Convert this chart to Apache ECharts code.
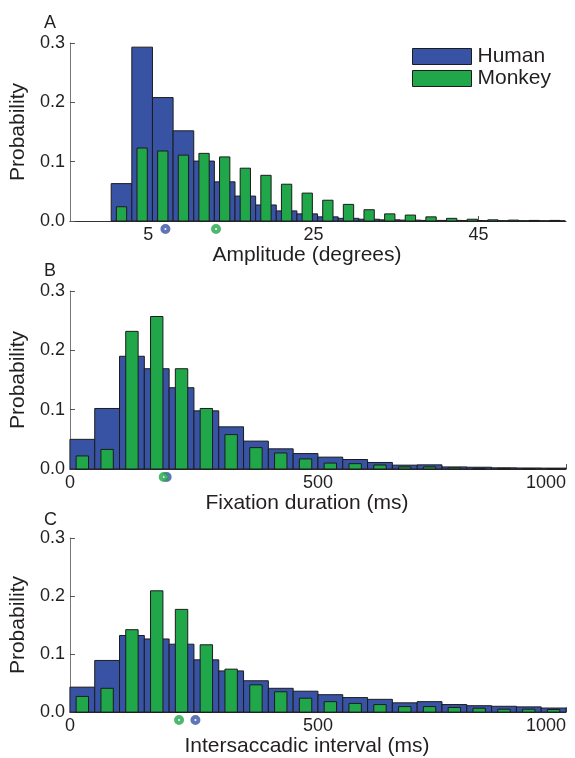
<!DOCTYPE html>
<html>
<head>
<meta charset="utf-8">
<script src="https://cdn.jsdelivr.net/npm/echarts@6/dist/echarts.min.js"></script>
<style>html,body{margin:0;padding:0;background:#fff;}#chart{width:575px;height:758px;}</style>
</head>
<body>
<div id="chart"></div>
<script>
// ---- data ----
const ampBins = [1.75, 4.25, 6.75, 9.25, 11.75, 14.25, 16.75, 19.25, 21.75, 24.25, 26.75, 29.25, 31.75, 34.25, 36.75, 39.25, 41.75, 44.25, 46.75, 49.25, 51.75, 54.25];
const ampHuman = [0.063, 0.293, 0.208, 0.152, 0.101, 0.066, 0.042, 0.027, 0.017, 0.012, 0.007, 0.0045, 0.003, 0.002, 0.0015, 0.001, 0.001, 0.0008, 0.0006, 0.0005, 0.0004, 0.0003];
const ampMonkey = [0.024, 0.123, 0.118, 0.111, 0.114, 0.108, 0.089, 0.077, 0.062, 0.047, 0.035, 0.028, 0.019, 0.012, 0.010, 0.007, 0.0045, 0.003, 0.002, 0.0015, 0.001, 0.001];
const msBins = [25, 75, 125, 175, 225, 275, 325, 375, 425, 475, 525, 575, 625, 675, 725, 775, 825, 875, 925, 975];
const fixHuman = [0.050, 0.102, 0.190, 0.169, 0.137, 0.098, 0.071, 0.047, 0.034, 0.026, 0.020, 0.016, 0.011, 0.0065, 0.007, 0.0035, 0.003, 0.002, 0.0017, 0.0015];
const fixMonkey = [0.022, 0.033, 0.232, 0.257, 0.169, 0.102, 0.058, 0.036, 0.027, 0.017, 0.010, 0.009, 0.0067, 0.0035, 0.0035, 0.002, 0.001, 0.001, 0.0007, 0.0005];
const isiHuman = [0.043, 0.089, 0.132, 0.126, 0.117, 0.090, 0.071, 0.054, 0.041, 0.036, 0.030, 0.025, 0.022, 0.016, 0.018, 0.013, 0.011, 0.010, 0.009, 0.007];
const isiMonkey = [0.027, 0.041, 0.142, 0.209, 0.177, 0.116, 0.074, 0.047, 0.035, 0.024, 0.018, 0.015, 0.013, 0.0095, 0.0095, 0.008, 0.0067, 0.005, 0.005, 0.0045];
const meanHuman = [7.07, 195, 253];
const meanMonkey = [13.2, 189, 220];
const ampTicks = [5, 25, 45];
const msTicks = [0, 500, 1000];
const panelLetters = ['A', 'B', 'C'];
const xTitles = ['Amplitude (degrees)', 'Fixation duration (ms)', 'Intersaccadic interval (ms)'];

// ---- styling ----
const BLUE = '#3853a4', GREEN = '#1fa74a', EDGE = '#1c1c1c', TXT = '#231f20';
const FONT = '"Liberation Sans", Arial, Helvetica, sans-serif';
const grids = [
  {left: 67, top: 43, width: 499, height: 178},
  {left: 67, top: 291, width: 499, height: 178},
  {left: 67, top: 538, width: 499, height: 178}
];

function barRender(binWidth, frac) {
  return function (params, api) {
    const c = api.value(0), v = api.value(1);
    const w = binWidth * frac;
    const p0 = api.coord([c - w / 2, v]);
    const p1 = api.coord([c + w / 2, 0]);
    return {
      type: 'rect',
      shape: {x: p0[0], y: p0[1], width: p1[0] - p0[0], height: p1[1] - p0[1]},
      style: {fill: api.visual('color'), stroke: EDGE, lineWidth: 1}
    };
  };
}
function pairs(xs, ys) { return xs.map((x, i) => [x, ys[i]]); }

const panels = [
  {bins: ampBins, h: ampHuman, m: ampMonkey, bw: 2.5, min: -4.5, max: 55.6, ticks: ampTicks},
  {bins: msBins, h: fixHuman, m: fixMonkey, bw: 50, min: 0, max: 1000, ticks: msTicks},
  {bins: msBins, h: isiHuman, m: isiMonkey, bw: 50, min: 0, max: 1000, ticks: msTicks}
];

const xAxis = [], yAxis = [], series = [], title = [];
panels.forEach((p, i) => {
  xAxis.push({
    type: 'value', gridIndex: i, min: p.min, max: p.max,
    name: xTitles[i], nameLocation: 'middle', nameGap: 21,
    nameTextStyle: {fontSize: 21, color: TXT, fontFamily: FONT, padding: [0, 22, 0, 0]},
    axisLine: {show: true, onZero: false, lineStyle: {color: '#333', width: 1}},
    axisTick: {show: true, inside: true, length: 5, customValues: p.ticks, lineStyle: {color: '#555'}},
    axisLabel: {show: true, customValues: p.ticks, fontSize: 18, color: TXT, fontFamily: FONT, margin: 5,
      formatter: v => String(v),
      alignMaxLabel: i === 0 ? null : 'right'},
    splitLine: {show: false}
  });
  yAxis.push({
    type: 'value', gridIndex: i, min: 0, max: 0.3, interval: 0.1,
    name: 'Probability', nameLocation: 'middle', nameGap: 31,
    nameTextStyle: {fontSize: 21, color: TXT, fontFamily: FONT},
    axisLine: {show: true, onZero: false, lineStyle: {color: '#777', width: 1}},
    axisTick: {show: true, inside: true, length: 5, lineStyle: {color: '#555'}},
    axisLabel: {fontSize: 18, color: TXT, fontFamily: FONT, margin: 5,
      formatter: v => v.toFixed(1)},
    splitLine: {show: false}
  });
  series.push({
    type: 'custom', name: 'Human', xAxisIndex: i, yAxisIndex: i,
    itemStyle: {color: BLUE}, renderItem: barRender(p.bw, 1),
    encode: {x: 0, y: 1}, data: pairs(p.bins, p.h), z: 2
  });
  series.push({
    type: 'custom', name: 'Monkey', xAxisIndex: i, yAxisIndex: i,
    itemStyle: {color: GREEN}, renderItem: barRender(p.bw, 0.5),
    encode: {x: 0, y: 1}, data: pairs(p.bins, p.m), z: 3
  });
  series.push({
    type: 'scatter', name: 'Human', xAxisIndex: i, yAxisIndex: i, clip: false,
    symbol: 'circle', symbolSize: 6, silent: true,
    itemStyle: {color: '#fff', borderColor: BLUE, borderWidth: 4},
    data: [[meanHuman[i], -0.0135]], z: 4
  });
  series.push({
    type: 'scatter', name: 'Monkey', xAxisIndex: i, yAxisIndex: i, clip: false,
    symbol: 'circle', symbolSize: 6, silent: true,
    itemStyle: {color: '#fff', borderColor: GREEN, borderWidth: 4},
    data: [[meanMonkey[i], -0.0135]], z: 5
  });
  title.push({
    text: panelLetters[i], left: 39, top: [9, 257, 506][i],
    textStyle: {fontSize: 18, fontWeight: 'normal', color: TXT, fontFamily: FONT}
  });
});

const chart = echarts.init(document.getElementById('chart'), null, {renderer: 'canvas'});
chart.setOption({
  animation: false,
  backgroundColor: '#fff',
  title: title,
  grid: grids,
  xAxis: xAxis,
  yAxis: yAxis,
  legend: {
    orient: 'vertical', left: 412, top: 46, padding: 0,
    itemWidth: 59, itemHeight: 16, itemGap: 1,
    textStyle: {fontSize: 21, color: TXT, fontFamily: FONT, lineHeight: 21, padding: [0, 0, 0, 1]},
    data: [
      {name: 'Human', icon: 'rect', itemStyle: {color: BLUE, borderColor: EDGE, borderWidth: 1}},
      {name: 'Monkey', icon: 'rect', itemStyle: {color: GREEN, borderColor: EDGE, borderWidth: 1}}
    ],
    selectedMode: false
  },
  series: series
});
</script>
</body>
</html>
